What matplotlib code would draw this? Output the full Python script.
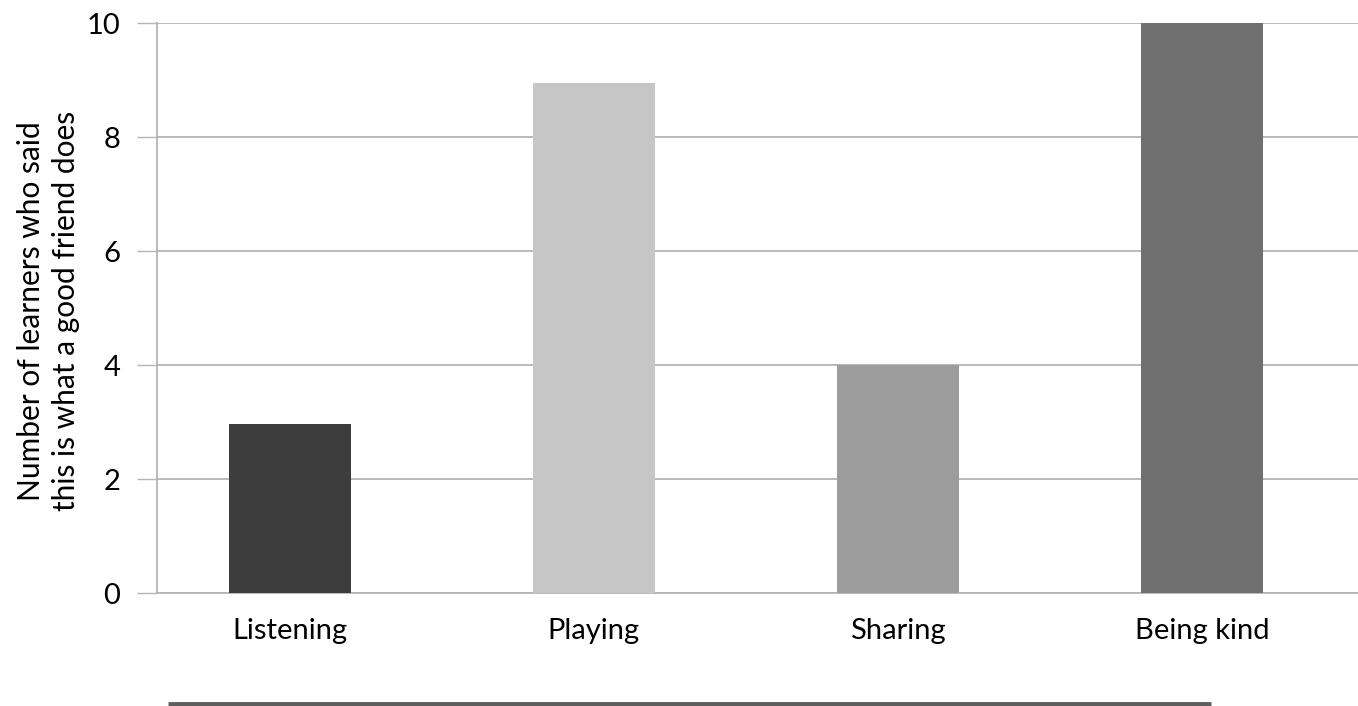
import matplotlib
matplotlib.use("Agg")
import matplotlib.pyplot as plt
from matplotlib.lines import Line2D

categories = ["Listening", "Playing", "Sharing", "Being kind"]
learners = [2.97, 8.95, 4.0, 10.0]
bar_colors = ["#3d3d3d", "#c6c6c6", "#9c9c9c", "#6f6f6f"]
y_ticks = [0, 2, 4, 6, 8, 10]
y_label = "Number of learners who said\nthis is what a good friend does"

plt.rcParams["font.family"] = ["Lato", "DejaVu Sans"]

fig = plt.figure(figsize=(13.58, 7.06), dpi=100)
ax = fig.add_axes([157 / 1358, 1 - 593 / 706, 1 - 157 / 1358, (593 - 23) / 706])

x = list(range(len(categories)))
ax.bar(x, learners, width=0.40, color=bar_colors, zorder=3)

ax.set_xlim(-0.437, 3.513)
ax.set_ylim(0, 10)
ax.set_yticks(y_ticks)
ax.set_xticks(x)
ax.set_xticklabels(categories)

grid_col = "#b4b4b4"
ax.grid(axis="y", color=grid_col, linewidth=1.3, zorder=0)
ax.set_axisbelow(True)
for side in ("top", "right"):
    ax.spines[side].set_visible(False)
ax.spines["left"].set_color(grid_col)
ax.spines["left"].set_linewidth(1.3)
ax.spines["bottom"].set_color(grid_col)
ax.spines["bottom"].set_linewidth(1.3)

ax.tick_params(axis="y", length=14.5, width=1.0, color=grid_col, pad=12,
               labelsize=21, labelcolor="black")
ax.tick_params(axis="x", length=0, pad=18, labelsize=21, labelcolor="black")

ax.set_ylabel(y_label, fontsize=21.5, color="black", linespacing=1.3)
ax.yaxis.set_label_coords(-0.064, 0.495)

# dark rule along the bottom of the figure
fig.add_artist(Line2D([168 / 1358, 1211 / 1358], [2 / 706, 2 / 706],
                      transform=fig.transFigure, color="#5e5e5e", linewidth=3.5,
                      solid_capstyle="butt"))

fig.savefig("out.png", dpi=100)
